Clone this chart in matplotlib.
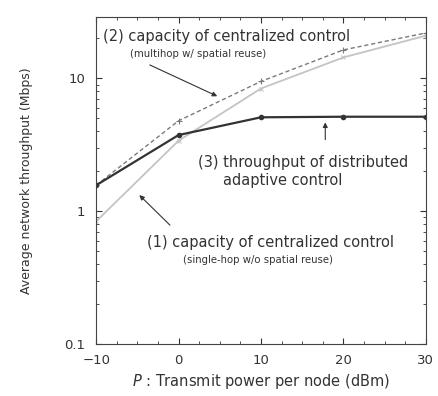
import numpy as np
import matplotlib.pyplot as plt
from matplotlib.ticker import FixedLocator, NullFormatter

plt.rcParams['font.family'] = ['DejaVu Sans']

# data
power_dbm = [-10, 0, 10, 20, 30]
cap_single_hop = [0.84, 3.4, 8.4, 14.4, 21.0]     # (1) centralized, single-hop
cap_multihop = [1.57, 4.8, 9.5, 16.4, 22.0]       # (2) centralized, multihop w/ spatial reuse
thr_distributed = [1.57, 3.75, 5.1, 5.15, 5.15]   # (3) distributed adaptive control

fig = plt.figure(figsize=(4.39, 3.96), dpi=100)
ax = fig.add_axes([0.219, 0.131, 0.751, 0.826])

ax.plot(power_dbm, cap_single_hop, color='#c4c4c4', lw=1.3, marker='x', ms=3, mew=0.8)
ax.plot(power_dbm, cap_multihop, color='#7a7a7a', lw=1.0, ls=(0, (3, 2)), marker='+', ms=4, mew=0.8)
ax.plot(power_dbm, thr_distributed, color='#333333', lw=1.6, marker='o', ms=3)

ax.set_yscale('log')
ax.set_xlim(-10, 30)
ax.set_ylim(0.1, 29)
ax.set_xticks([-10, 0, 10, 20, 30])
ax.set_xticklabels(['\u221210', '0', '10', '20', '30'])
ax.xaxis.set_minor_locator(FixedLocator(np.arange(-10, 31, 2.5)))
ax.set_yticks([0.1, 1, 10])
ax.set_yticklabels(['0.1', '1', '10'])
ax.yaxis.set_minor_formatter(NullFormatter())
ax.tick_params(which='both', direction='in', top=True, right=True, labelsize=9.5, colors='#333333')
ax.tick_params(which='major', length=4)
ax.tick_params(which='minor', length=2)
ax.tick_params(axis='x', which='major', pad=7)
ax.tick_params(axis='y', which='major', pad=8)
for s in ax.spines.values():
    s.set_color('#444444')

ax.set_xlabel('$P$ : Transmit power per node (dBm)', fontsize=10.5, color='#333333', labelpad=4)
ax.set_ylabel('Average network throughput (Mbps)', fontsize=9, color='#333333', labelpad=22)

txt = dict(color='#333333', va='baseline')
ax.text(-9.15, 19.3, '(2) capacity of centralized control', fontsize=10.5, **txt)
ax.text(-5.9, 14.6, '(multihop w/ spatial reuse)', fontsize=7.3, **txt)
ax.annotate('', xy=(5.0, 7.2), xytext=(-3.8, 12.9),
            arrowprops=dict(arrowstyle='-|>', color='#333333', lw=0.8, mutation_scale=7))

ax.text(2.4, 2.14, '(3) throughput of distributed', fontsize=10.5, **txt)
ax.text(5.4, 1.57, 'adaptive control', fontsize=10.5, **txt)
ax.annotate('', xy=(17.8, 4.9), xytext=(17.8, 3.3),
            arrowprops=dict(arrowstyle='-|>', color='#333333', lw=0.8, mutation_scale=7))

ax.text(11.1, 0.54, '(1) capacity of centralized control', fontsize=10.5, ha='center', **txt)
ax.text(9.6, 0.41, '(single-hop w/o spatial reuse)', fontsize=7.3, ha='center', **txt)
ax.annotate('', xy=(-5.0, 1.37), xytext=(-0.8, 0.76),
            arrowprops=dict(arrowstyle='-|>', color='#333333', lw=0.8, mutation_scale=7))

plt.savefig('out.png', dpi=100)
